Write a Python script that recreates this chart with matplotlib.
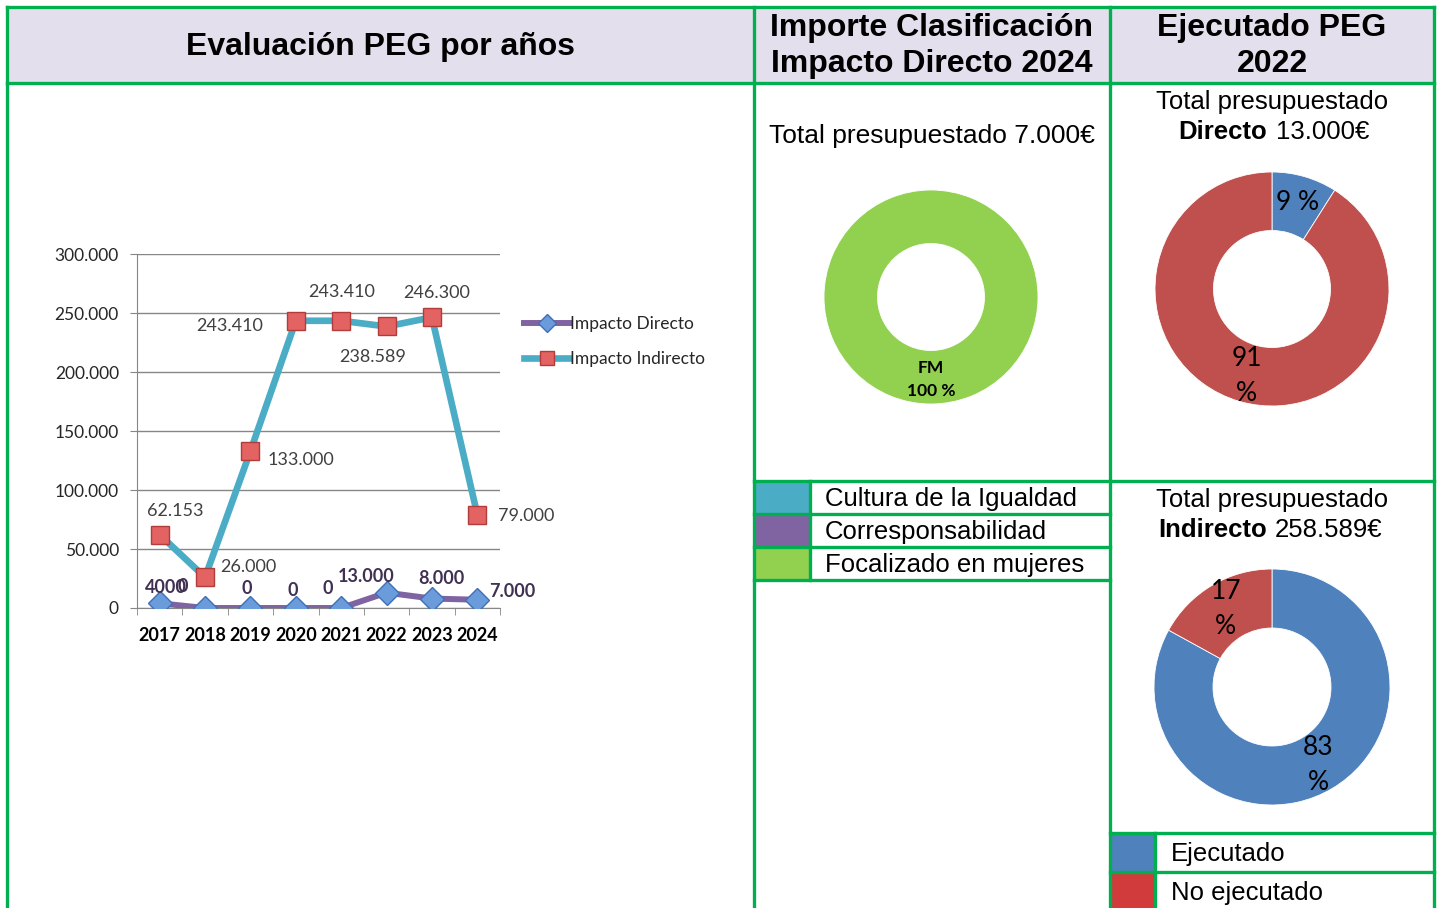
import matplotlib
matplotlib.use('Agg')
import matplotlib.pyplot as plt
from matplotlib.patches import Rectangle

# Datos
anios = ['2017', '2018', '2019', '2020', '2021', '2022', '2023', '2024']
impacto_directo = [4000, 0, 0, 0, 0, 13000, 8000, 7000]
impacto_indirecto = [62153, 26000, 133000, 243410, 243410, 238589, 246300, 79000]
etiquetas_directo = ['4000', '0', '0', '0', '0', '13.000', '8.000', '7.000']
etiquetas_indirecto = ['62.153', '26.000', '133.000', '243.410', '243.410',
                       '238.589', '246.300', '79.000']
yticks = [0, 50000, 100000, 150000, 200000, 250000, 300000]
ytick_lbl = ['0', '50.000', '100.000', '150.000', '200.000', '250.000', '300.000']

fm_reparto = [100]
directo_2022 = [9, 91]        # Ejecutado, No ejecutado
indirecto_2022 = [83, 17]

leyenda_clasif = ['Cultura de la Igualdad', 'Corresponsabilidad', 'Focalizado en mujeres']
colores_clasif = ['#4BACC6', '#8064A2', '#92D050']
leyenda_ejec = ['Ejecutado', 'No ejecutado']
colores_ejec_leyenda = ['#4F81BD', '#D13B3B']
colores_ejec = ['#4F81BD', '#C0504D']

VERDE = '#00B050'
W, H = 1440, 908

fig = plt.figure(figsize=(W / 100, H / 100), dpi=100)
fig.patch.set_facecolor('white')


def fr(x0, y0, x1, y1):
    """pixeles (y hacia abajo) -> fraccion de figura"""
    return [x0 / W, 1 - y1 / H, (x1 - x0) / W, (y1 - y0) / H]


# --- Tabla de fondo ---
bg = fig.add_axes([0, 0, 1, 1])
bg.set_xlim(0, W)
bg.set_ylim(H, 0)
bg.axis('off')

bg.add_patch(Rectangle((7, 7), 1427, 76, facecolor='#E4DFEC', edgecolor='none'))
for i, c in enumerate(colores_clasif):
    bg.add_patch(Rectangle((755, 482 + 33 * i), 55, 32, facecolor=c, edgecolor='none'))
for i, c in enumerate(colores_ejec_leyenda):
    bg.add_patch(Rectangle((1111, 834 + 39 * i), 44, 38, facecolor=c, edgecolor='none'))

lw = 2.4
segs = [
    ((7, 1434), (7, 7)), ((7, 1434), (83, 83)),
    ((7, 7), (7, 908)), ((754, 754), (7, 908)), ((1110, 1110), (7, 908)),
    ((1434, 1434), (7, 908)),
    ((754, 1434), (481, 481)), ((754, 1110), (514, 514)),
    ((754, 1110), (547, 547)), ((754, 1110), (580, 580)),
    ((810, 810), (481, 580)),
    ((1110, 1434), (833, 833)), ((1110, 1434), (872, 872)),
    ((1155, 1155), (833, 908)),
]
for xs, ys in segs:
    bg.plot(xs, ys, color=VERDE, lw=lw, solid_capstyle='projecting')

hdr = dict(family='Liberation Sans', fontsize=23, fontweight='bold',
           ha='center', va='center', color='black')
bg.text(380, 47, 'Evaluación PEG por años', **hdr)
bg.text(932, 28, 'Importe Clasificación', **hdr)
bg.text(932, 64, 'Impacto Directo 2024', **hdr)
bg.text(1272, 28, 'Ejecutado PEG', **hdr)
bg.text(1272, 64, '2022', **hdr)

txt = dict(family='Liberation Sans', fontsize=18.5, va='center', color='black')
bg.text(932, 136, 'Total presupuestado 7.000€', ha='center', fontsize=19,
        family='Liberation Sans', va='center', color='black')
bg.text(1272, 102, 'Total presupuestado', ha='center', **txt)
bg.text(1267, 132, 'Directo', ha='right', fontweight='bold', **txt)
bg.text(1276, 132, '13.000€', ha='left', **txt)
bg.text(1272, 500, 'Total presupuestado', ha='center', **txt)
bg.text(1267, 530, 'Indirecto', ha='right', fontweight='bold', **txt)
bg.text(1275, 530, '258.589€', ha='left', **txt)

for i, t in enumerate(leyenda_clasif):
    bg.text(825, 499 + 33 * i, t, ha='left', **txt)
for i, t in enumerate(leyenda_ejec):
    bg.text(1171, 854 + 39 * i, t, ha='left', **txt)

# --- Grafico de lineas ---
ax = fig.add_axes(fr(137, 254, 500, 608))
x = list(range(len(anios)))
ax.plot(x, impacto_directo, color='#8064A2', lw=4.3, marker='D', ms=12,
        markerfacecolor='#6A9BDB', markeredgecolor='#3F6FB5', markeredgewidth=1,
        label='Impacto Directo', zorder=4)
ax.plot(x, impacto_indirecto, color='#4BACC6', lw=4.8, marker='s', ms=13.5,
        markerfacecolor='#E36262', markeredgecolor='#B03C3C', markeredgewidth=1,
        label='Impacto Indirecto', zorder=3)

ax.set_xlim(-0.5, len(anios) - 0.5)
ax.set_ylim(0, 300000)
ax.set_yticks(yticks)
ax.set_yticklabels(ytick_lbl, family='Lato', fontsize=12.5, color='#262626')
ax.set_xticks(x)
ax.set_xticklabels(anios, family='Lato', fontsize=13, fontweight='bold', color='black')
ax.set_xticks([i - 0.5 for i in range(len(anios) + 1)], minor=True)
ax.tick_params(axis='x', which='major', length=0, pad=14)
ax.tick_params(axis='x', which='minor', length=5, color='#868686', direction='out')
ax.tick_params(axis='y', length=5, color='#868686', pad=8)
ax.grid(axis='y', color='#868686', lw=1)
ax.set_axisbelow(True)
for s in ['top', 'right']:
    ax.spines[s].set_visible(False)
ax.spines['left'].set_color('#868686')
ax.spines['bottom'].set_color('#868686')

off_ind = [(16, 24), (43, 10), (50, -9), (-66, -5), (0, 29), (-14, -31), (5, 24), (49, -1)]
off_dir = [(6, 16), (-22, 21), (-4, 20), (-3, 18), (-13, 20), (-20, 16), (9, 20), (35, 8)]
for i in x:
    ax.annotate(etiquetas_indirecto[i], (i, impacto_indirecto[i]), xytext=off_ind[i],
                textcoords='offset pixels', ha='center', va='center',
                family='Lato', fontsize=13, color='#404040', zorder=6,
                annotation_clip=False)
    ax.annotate(etiquetas_directo[i], (i, impacto_directo[i]), xytext=off_dir[i],
                textcoords='offset pixels', ha='center', va='center',
                family='Lato', fontsize=13, fontweight='bold', color='#403152',
                zorder=6, annotation_clip=False)

leg = ax.legend(loc='upper left', bbox_to_anchor=(524 / W, 1 - 316 / H),
                bbox_transform=fig.transFigure, frameon=False,
                prop={'family': 'Lato', 'size': 12.5}, handlelength=2.6,
                handletextpad=0.05, labelspacing=1.1, markerscale=0.75,
                borderpad=0, borderaxespad=0)
for t in leg.get_texts():
    t.set_color('#262626')


# --- Donuts ---
def donut(cx, cy, r, valores, colores, fmt, fsize, bold=False, ls=1.5):
    a = fig.add_axes(fr(cx - r, cy - r, cx + r, cy + r))
    wedges, _, autot = a.pie(valores, colors=colores, startangle=90, counterclock=False,
                             wedgeprops=dict(width=0.5, edgecolor='white', linewidth=0.6),
                             autopct=fmt, pctdistance=0.77)
    for t in autot:
        t.set_fontfamily('Lato')
        t.set_fontsize(fsize)
        t.set_linespacing(ls)
        if bold:
            t.set_fontweight('bold')
    a.set_xlim(-1, 1)
    a.set_ylim(-1, 1)
    a.set_aspect('equal')
    a.axis('off')
    return a


def fmt_pct(p):
    return f'{p:.0f} %' if p < 10 else f'{p:.0f}\n%'


donut(931, 297, 107, fm_reparto, ['#92D050'], lambda p: f'FM\n{p:.0f} %', 12.5,
      bold=True, ls=1.5)
donut(1272, 289, 117, directo_2022, colores_ejec, fmt_pct, 19)
donut(1272, 687, 118, indirecto_2022, colores_ejec, fmt_pct, 19)

plt.savefig('out.png', dpi=100, facecolor='white')
